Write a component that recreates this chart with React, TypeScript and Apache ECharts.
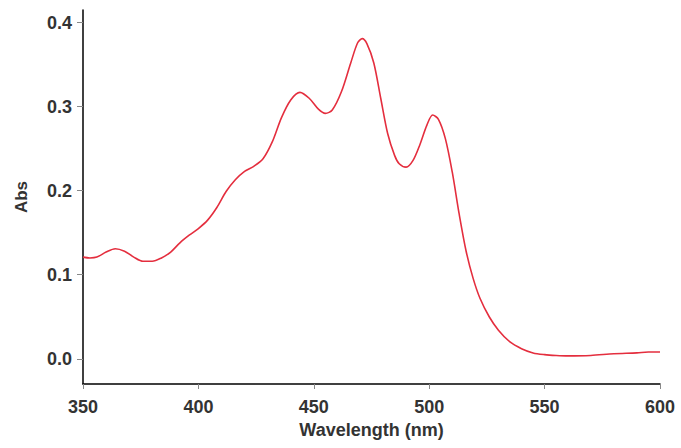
import React, { useEffect, useRef } from "react";
import * as echarts from "echarts";

const wavelengths = [350, 353, 356, 360, 364, 368, 372, 376, 380, 384, 388, 392, 396, 400, 404, 408, 412, 416, 420, 424, 428, 432, 436, 440, 444, 448, 452, 455, 458, 462, 466, 469, 471, 473, 476, 479, 482, 485, 487, 490, 493, 496, 499, 501.5, 504, 507, 510, 513, 516, 519, 522, 526, 530, 535, 540, 545, 550, 555, 560, 570, 580, 590, 595, 600];
const absorbance = [0.121, 0.120, 0.121, 0.127, 0.131, 0.128, 0.121, 0.116, 0.116, 0.120, 0.127, 0.138, 0.147, 0.155, 0.165, 0.180, 0.199, 0.213, 0.223, 0.229, 0.238, 0.258, 0.287, 0.308, 0.317, 0.310, 0.297, 0.292, 0.296, 0.318, 0.352, 0.376, 0.381, 0.375, 0.352, 0.310, 0.268, 0.242, 0.232, 0.228, 0.236, 0.255, 0.278, 0.290, 0.285, 0.262, 0.222, 0.172, 0.128, 0.096, 0.072, 0.050, 0.034, 0.020, 0.012, 0.007, 0.005, 0.004, 0.0035, 0.004, 0.006, 0.007, 0.008, 0.008];
const yTicks = [0, 0.1, 0.2, 0.3, 0.4];
const xTitle = "Wavelength (nm)";
const yTitle = "Abs";

export default function App() {
  const ref = useRef<HTMLDivElement>(null);
  useEffect(() => {
    if (!ref.current) return;
    const chart = echarts.init(ref.current, null, { renderer: "svg" });
    const font = "Liberation Sans, Arial, sans-serif";
    chart.setOption({
      animation: false,
      backgroundColor: "#ffffff",
      grid: { left: 83, right: 21, top: 10, bottom: 64, containLabel: false },
      xAxis: {
        type: "value",
        min: 350,
        max: 600,
        interval: 50,
        name: xTitle,
        nameLocation: "middle",
        nameGap: 36,
        nameTextStyle: { fontFamily: font, fontSize: 18, fontWeight: "bold", color: "#333", verticalAlign: "top" },
        axisLine: { show: true, onZero: false, lineStyle: { color: "#000", width: 1.5 } },
        axisTick: { show: true, length: 5, lineStyle: { color: "#888" } },
        axisLabel: { fontFamily: font, fontSize: 18, fontWeight: "bold", color: "#333", margin: 14 },
        splitLine: { show: false },
      },
      yAxis: {
        type: "value",
        min: -0.03,
        max: 0.415,
        name: yTitle,
        nameLocation: "middle",
        nameGap: 53,
        nameTextStyle: { fontFamily: font, fontSize: 17, fontWeight: "bold", color: "#333" },
        axisLine: { show: true, onZero: false, lineStyle: { color: "#000", width: 1.5 } },
        axisTick: { show: true, length: 6, customValues: yTicks, lineStyle: { color: "#888" } },
        axisLabel: {
          fontFamily: font,
          fontSize: 18,
          fontWeight: "bold",
          color: "#333",
          margin: 11,
          customValues: yTicks,
          formatter: (v: number) => v.toFixed(1),
        },
        splitLine: { show: false },
      },
      series: [
        {
          type: "line",
          data: wavelengths.map((w, i) => [w, absorbance[i]]),
          showSymbol: false,
          smooth: 0.3,
          lineStyle: { color: "#e42e3e", width: 1.6 },
        },
      ],
    });
    return () => chart.dispose();
  }, []);
  return <div ref={ref} style={{ width: 681, height: 448, position: "absolute", left: 0, top: 0 }} />;
}
